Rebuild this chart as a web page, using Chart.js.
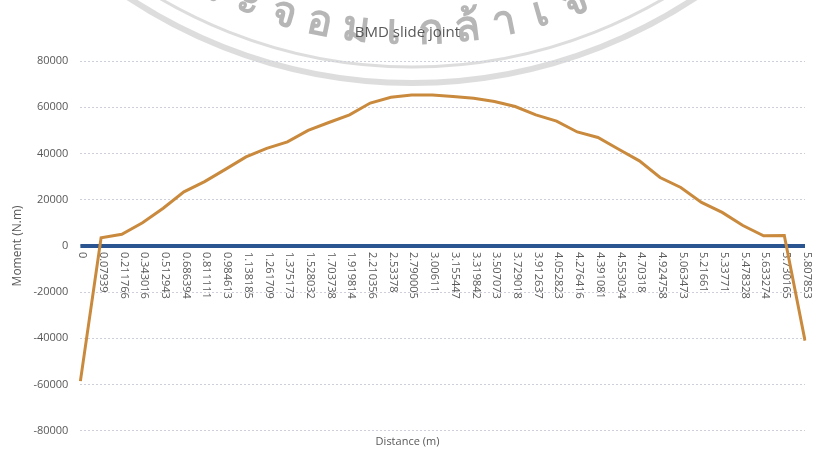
<!DOCTYPE html>
<html>
<head>
<meta charset="utf-8">
<title>BMD slide joint</title>
<script src="https://cdn.jsdelivr.net/npm/chart.js@4.4.1/dist/chart.umd.min.js"></script>
<style>
  html, body { margin: 0; padding: 0; background: #fff; }
  #wrap { width: 814px; height: 465px; }
</style>
</head>
<body>
<div id="wrap"><canvas id="bmdChart"></canvas></div>
<script>
// distance along the beam (m), used as category labels
const distances = ['0', '0.07939', '0.211766', '0.343016', '0.512943', '0.686394', '0.811111',
  '0.984613', '1.138185', '1.261709', '1.375173', '1.528032', '1.703738', '1.919814',
  '2.210356', '2.53378', '2.790005', '3.00611', '3.155447', '3.319842', '3.507073',
  '3.729018', '3.912637', '4.052823', '4.276416', '4.391081', '4.553034', '4.70318',
  '4.924758', '5.063473', '5.21661', '5.33771', '5.478328', '5.633274', '5.730165', '5.807853'];

// bending moment (N.m)
const moment = [-58500, 3500, 5000, 10000, 16300, 23400, 27800, 33100, 38500, 42200, 45000,
  50000, 53400, 56700, 61800, 64300, 65300, 65300, 64600, 63900, 62500, 60300, 56700, 54000,
  49300, 46900, 41800, 36800, 29600, 25300, 18800, 14500, 8800, 4400, 4500, -41000];

// reference line
const baseline = [0, 0, 0, 0, 0, 0, 0, 0, 0, 0, 0, 0, 0, 0, 0, 0, 0, 0,
  0, 0, 0, 0, 0, 0, 0, 0, 0, 0, 0, 0, 0, 0, 0, 0, 0, 0];

const yTicks = [-80000, -60000, -40000, -20000, 0, 20000, 40000, 60000, 80000];

const sealText = 'พระจอมเกล้าเจ้าคุณทหารลาดกระบัง';

const textGrey = '#595959';

// faded university seal behind the chart
const sealPlugin = {
  id: 'seal',
  beforeDraw(chart) {
    const ctx = chart.ctx;
    ctx.save();
    ctx.fillStyle = '#fff';
    ctx.fillRect(0, 0, chart.width, chart.height);
    const cx = 412, cy = -430;
    ctx.strokeStyle = 'rgba(150,150,150,0.32)';
    ctx.lineWidth = 6;
    ctx.beginPath();
    ctx.arc(cx, cy, 513, 0, Math.PI);
    ctx.stroke();
    ctx.lineWidth = 3;
    ctx.beginPath();
    ctx.arc(cx, cy, 497, 0, Math.PI);
    ctx.stroke();

    // letters along the lower arc, tops facing the centre
    const clusters = sealText.match(/.[\u0E31\u0E34-\u0E3A\u0E47-\u0E4E]*/g);
    const step = 4.6 * Math.PI / 180;
    const mid = 6.5;
    ctx.fillStyle = 'rgba(110,110,110,0.5)';
    ctx.font = 'bold 42px "Noto Sans", sans-serif';
    ctx.textAlign = 'center';
    ctx.textBaseline = 'middle';
    clusters.forEach(function (ch, i) {
      const a = (i - mid) * step;
      const r = 462;
      ctx.save();
      ctx.translate(cx + r * Math.sin(a), cy + r * Math.cos(a));
      ctx.rotate(-a);
      ctx.fillText(ch, 0, 0);
      ctx.restore();
    });
    ctx.restore();
  }
};

// category labels hanging below the zero line, reading top to bottom
const hangingLabels = {
  id: 'hangingLabels',
  beforeDatasetsDraw(chart) {
    const ctx = chart.ctx;
    const x = chart.scales.x;
    const top = chart.scales.y.getPixelForValue(0) + 6;
    ctx.save();
    ctx.fillStyle = textGrey;
    ctx.font = '11px "Open Sans", sans-serif';
    ctx.textAlign = 'left';
    ctx.textBaseline = 'middle';
    distances.forEach(function (label, i) {
      ctx.save();
      ctx.translate(x.getPixelForValue(i) + 2, top);
      ctx.rotate(Math.PI / 2);
      ctx.fillText(label, 0, 0);
      ctx.restore();
    });
    ctx.restore();
  }
};

new Chart(document.getElementById('bmdChart'), {
  type: 'line',
  data: {
    labels: distances,
    datasets: [{
      label: 'Moment',
      data: moment,
      borderColor: '#C98A3E',
      backgroundColor: '#C98A3E',
      borderWidth: 3,
      pointRadius: 0,
      tension: 0,
      order: 0
    }, {
      label: 'Zero',
      data: baseline,
      borderColor: '#2B5590',
      backgroundColor: '#2B5590',
      borderWidth: 4,
      pointRadius: 0,
      order: 1
    }]
  },
  options: {
    responsive: true,
    maintainAspectRatio: false,
    animation: false,
    layout: { padding: { left: 10, right: 9, top: 0, bottom: 0 } },
    plugins: {
      legend: { display: false },
      tooltip: { enabled: false },
      title: {
        display: true,
        text: 'BMD slide joint',
        color: textGrey,
        font: { family: 'Open Sans', size: 15, weight: 'normal' },
        padding: { top: 24, bottom: 19 }
      },
      subtitle: {
        display: true,
        position: 'bottom',
        text: 'Distance (m)',
        color: textGrey,
        font: { family: 'Open Sans', size: 11 },
        padding: { top: 4, bottom: 17 }
      }
    },
    scales: {
      x: {
        type: 'category',
        offset: false,
        position: { y: 0 },
        grid: { display: false },
        border: { display: false },
        ticks: { display: false }
      },
      y: {
        min: -80000,
        max: 80000,
        afterBuildTicks(scale) {
          scale.ticks = yTicks.map(v => ({ value: v }));
        },
        grid: { color: '#cdd0d8', lineWidth: 1, drawTicks: false },
        border: { display: false, dash: [2, 2] },
        ticks: {
          color: textGrey,
          font: { family: 'Open Sans', size: 11 },
          padding: 12,
          callback: v => String(v)
        },
        title: {
          display: true,
          text: 'Moment (N.m)',
          color: textGrey,
          font: { family: 'Open Sans', size: 12 },
          padding: { top: 0, bottom: -3 }
        }
      }
    }
  },
  plugins: [sealPlugin, hangingLabels]
});
</script>
</body>
</html>
